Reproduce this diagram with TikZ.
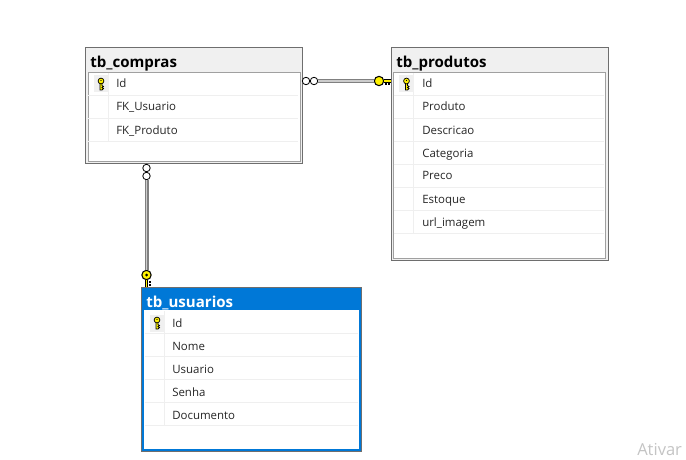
\documentclass[tikz,border=0pt]{standalone}
\usepackage{fontspec}
\setmainfont{Open Sans}
\usepackage{xcolor}
\definecolor{hdrgray}{HTML}{F0F0F0}
\definecolor{boxgray}{HTML}{6E6E6E}
\definecolor{innergray}{HTML}{A0A0A0}
\definecolor{rowgray}{HTML}{EFEFEF}
\definecolor{selblue}{HTML}{0078D7}
\definecolor{keyyellow}{HTML}{FFF200}
\definecolor{wmgray}{HTML}{C4C4C4}
\tikzset{
    tablebox/.style={draw=boxgray,line width=0.9pt,fill=hdrgray,anchor=north west,inner sep=0pt},
    selbox/.style={tablebox,fill=selblue},
    innerbox/.style={draw=innergray,line width=0.9pt,fill=white,anchor=north west,inner sep=0pt},
    selinner/.style={innerbox,draw=white},
    tabletitle/.style={anchor=base west,inner sep=0pt,font=\fontsize{11.3pt}{13pt}\selectfont\bfseries},
    rowtext/.style={anchor=base west,inner sep=0pt,font=\fontsize{8.6pt}{10pt}\selectfont,text=black!85},
    ring/.style={circle,draw=black,fill=white,line width=0.6pt,inner sep=0pt,minimum size=5.6pt},
    keyend/.style={circle,draw=black,fill=keyyellow,line width=0.8pt,inner sep=0pt,minimum size=7pt},
    relline/.style={draw=gray,line width=0.8pt,double=black!20,double distance=1.4pt},
    keyshaft/.style={draw=black,line width=0.55pt,fill=keyyellow},
    keystem/.style={draw=black,line width=0.75pt,double=keyyellow,double distance=1pt},
}
\begin{document}
\begin{tikzpicture}[x=0.75pt,y=-0.75pt]
    \def\px{0.75pt}
    % small key in a row: #1,#2 is the middle of the grey cell
    \def\keyicon#1#2{
        \fill[hdrgray] (#1-7.5,#2-8.5) rectangle (#1+7.5,#2+8.5);
        \filldraw[keyshaft] (#1-1,#2-1) -- (#1-1,#2+6) -- (#1+1,#2+6) -- (#1+2.5,#2+4.5) -- (#1+1,#2+3.5) -- (#1+2.5,#2+2.5) -- (#1+1,#2+1.5) -- (#1+1,#2-1) -- cycle;
        \filldraw[keyshaft] (#1,#2-3) circle [radius=2.9];
        \fill[black] (#1,#2-3.5) circle [radius=0.7];
    }
    \useasboundingbox[fill=white] (0,0) rectangle (686,460);

    % tb_compras
    \def\ax{85}
    \def\ay{47}
    \node[tablebox,minimum width=217*\px,minimum height=116*\px] (compras) at (\ax,\ay) {};
    \node[innerbox,minimum width=212*\px,minimum height=89*\px] (comprasbody) at (\ax+2.5,\ay+25) {};
    \node[tabletitle] (comprastitle) at (\ax+5,\ay+21) {tb\_compras};
    \draw[rowgray] (\ax+3,\ay+48) -- (\ax+213,\ay+48);
    \draw[rowgray] (\ax+3,\ay+71) -- (\ax+213,\ay+71);
    \draw[rowgray] (\ax+3,\ay+94) -- (\ax+213,\ay+94);
    \draw[rowgray] (\ax+23,\ay+26) -- (\ax+23,\ay+94);
    \keyicon{\ax+16}{\ay+37}
    \node[rowtext] (comprasid) at (\ax+31,\ay+41) {Id};
    \node[rowtext] (comprasfku) at (\ax+31,\ay+64) {FK\_Usuario};
    \node[rowtext] (comprasfkp) at (\ax+31,\ay+87) {FK\_Produto};

    % tb_produtos
    \def\bx{390.5}
    \def\by{47}
    \node[tablebox,minimum width=217*\px,minimum height=213*\px] (produtos) at (\bx,\by) {};
    \node[innerbox,minimum width=212*\px,minimum height=186*\px] (produtosbody) at (\bx+2.5,\by+25) {};
    \node[tabletitle] (produtostitle) at (\bx+5.5,\by+21) {tb\_produtos};
    \draw[rowgray] (\bx+3,\by+48) -- (\bx+213,\by+48);
    \draw[rowgray] (\bx+3,\by+71) -- (\bx+213,\by+71);
    \draw[rowgray] (\bx+3,\by+94) -- (\bx+213,\by+94);
    \draw[rowgray] (\bx+3,\by+117) -- (\bx+213,\by+117);
    \draw[rowgray] (\bx+3,\by+140) -- (\bx+213,\by+140);
    \draw[rowgray] (\bx+3,\by+163) -- (\bx+213,\by+163);
    \draw[rowgray] (\bx+3,\by+186) -- (\bx+213,\by+186);
    \draw[rowgray] (\bx+23,\by+26) -- (\bx+23,\by+186);
    \keyicon{\bx+16}{\by+37}
    \node[rowtext] (produtosid) at (\bx+31.5,\by+41) {Id};
    \node[rowtext] (produtosnome) at (\bx+31.5,\by+64) {Produto};
    \node[rowtext] (produtosdesc) at (\bx+31.5,\by+87) {Descricao};
    \node[rowtext] (produtoscat) at (\bx+31.5,\by+110) {Categoria};
    \node[rowtext] (produtospreco) at (\bx+31.5,\by+133) {Preco};
    \node[rowtext] (produtosest) at (\bx+31.5,\by+156) {Estoque};
    \node[rowtext] (produtosurl) at (\bx+31.5,\by+179) {url\_imagem};

    % tb_usuarios
    \def\cx{140.5}
    \def\cy{287}
    \node[selbox,minimum width=220.5*\px,minimum height=164*\px] (usuarios) at (\cx,\cy) {};
    \node[selinner,minimum width=214*\px,minimum height=138*\px] (usuariosbody) at (\cx+3.5,\cy+23) {};
    \node[tabletitle,text=white] (usuariostitle) at (\cx+5.5,\cy+20) {tb\_usuarios};
    \draw[rowgray] (\cx+4,\cy+46) -- (\cx+217,\cy+46);
    \draw[rowgray] (\cx+4,\cy+69) -- (\cx+217,\cy+69);
    \draw[rowgray] (\cx+4,\cy+92) -- (\cx+217,\cy+92);
    \draw[rowgray] (\cx+4,\cy+115) -- (\cx+217,\cy+115);
    \draw[rowgray] (\cx+4,\cy+138) -- (\cx+217,\cy+138);
    \draw[rowgray] (\cx+24,\cy+24) -- (\cx+24,\cy+138);
    \keyicon{\cx+16.5}{\cy+36}
    \node[rowtext] (usuariosid) at (\cx+31.5,\cy+40) {Id};
    \node[rowtext] (usuariosnome) at (\cx+31.5,\cy+63) {Nome};
    \node[rowtext] (usuarioslogin) at (\cx+31.5,\cy+86) {Usuario};
    \node[rowtext] (usuariossenha) at (\cx+31.5,\cy+109) {Senha};
    \node[rowtext] (usuariosdoc) at (\cx+31.5,\cy+132) {Documento};

    % compras -> produtos
    \node[ring] (ringa) at (306,81) {};
    \node[ring] (ringb) at (314,81) {};
    \node[keyend] (keyp) at (379,81) {};
    \draw[relline] (ringb.east) -- (keyp.west);
    \draw[keystem] (keyp.east) -- (keyp.east -| produtos.west);
    \draw[black,line width=0.9pt] (386,83) -- (386,85);
    \draw[black,line width=0.9pt] (389,83) -- (389,85);

    % compras -> usuarios
    \node[ring] (ringc) at (146.5,168) {};
    \node[ring] (ringd) at (146.5,176) {};
    \node[keyend] (keyu) at (146.5,275) {};
    \fill[black] (keyu) circle [radius=1.5];
    \draw[relline] (ringd.south) -- (keyu.north);
    \draw[keystem] (keyu.south) -- (keyu.south |- usuarios.north);
    \draw[black,line width=0.9pt] (149,282) -- (151,282);
    \draw[black,line width=0.9pt] (149,285) -- (151,285);

    \node[anchor=base west,inner sep=0pt,text=wmgray,font=\fontsize{12.4pt}{14pt}\selectfont] (ativar) at (637,455) {Ativar};
\end{tikzpicture}
\end{document}
